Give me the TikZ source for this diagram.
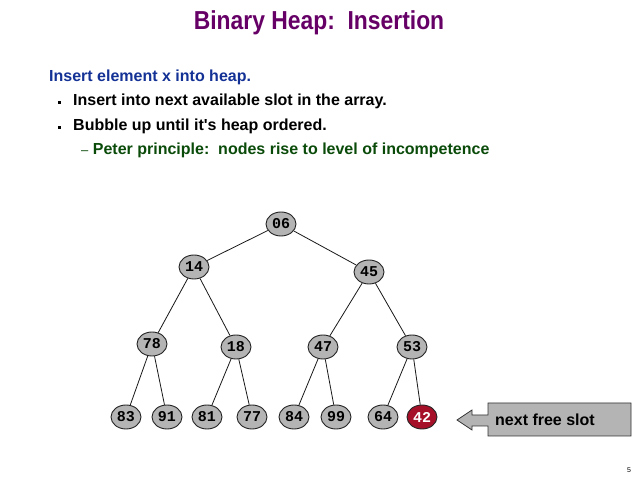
\documentclass[tikz,border=0pt]{standalone}
\usepackage{fontspec}
\setmainfont{Liberation Sans}
\newfontfamily\titlefont[FakeStretch=0.88]{Liberation Sans}
\newfontfamily\nodefont{Liberation Mono}
\usetikzlibrary{shapes.geometric}
\definecolor{titlepurple}{RGB}{102,0,102}
\definecolor{headblue}{RGB}{20,50,150}
\definecolor{subgreen}{RGB}{10,75,10}
\definecolor{nodegray}{RGB}{180,180,180}
\definecolor{hotred}{RGB}{165,15,40}
\begin{document}
\begin{tikzpicture}[x=1pt,y=-1pt,
  hnode/.style={ellipse, draw=black!85, line width=0.9pt, fill=nodegray, minimum width=30pt, minimum height=24pt, inner sep=0pt, font=\nodefont\bfseries\fontsize{15}{15}\selectfont},
  newnode/.style={hnode, fill=hotred, text=white},
  edge/.style={draw=black!90, line width=0.8pt},
  txt/.style={anchor=west, inner sep=0pt, font=\bfseries\fontsize{16}{16}\selectfont}
]
\useasboundingbox (0,0) rectangle (638,478);
\fill[white] (0,0) rectangle (638,478);

\node[inner sep=0pt, text=titlepurple, font=\titlefont\bfseries\fontsize{26}{26}\selectfont] (title) at (319,23) {Binary Heap:\ \ Insertion};
\node[txt, text=headblue] (h1) at (49,77) {Insert element x into heap.};
\node[inner sep=0pt, fill=black, minimum size=3pt] (b1) at (59,103) {};
\node[txt] (t1) at (73,101) {Insert into next available slot in the array.};
\node[inner sep=0pt, fill=black, minimum size=3pt] (b2) at (59,128) {};
\node[txt] (t2) at (73,126) {Bubble up until it\textquotesingle s heap ordered.};
\node[txt, text=subgreen] (t3) at (81,150) {{\mdseries\fontsize{13}{13}\selectfont --} Peter principle:\ \ nodes rise to level of incompetence};

\node[hnode] (n06) at (281,224) {06};
\node[hnode] (n14) at (194,267) {14};
\node[hnode] (n45) at (369,272) {45};
\node[hnode] (n78) at (152,344) {78};
\node[hnode] (n18) at (236,347) {18};
\node[hnode] (n47) at (323,347) {47};
\node[hnode] (n53) at (412,347) {53};
\node[hnode] (n83) at (126,417) {83};
\node[hnode] (n91) at (167,417) {91};
\node[hnode] (n81) at (207,417) {81};
\node[hnode] (n77) at (252,417) {77};
\node[hnode] (n84) at (294,417) {84};
\node[hnode] (n99) at (336,417) {99};
\node[hnode] (n64) at (383,417) {64};
\node[newnode] (n42) at (422,417) {42};

\path[edge] (n06) -- (n14);
\path[edge] (n06) -- (n45);
\path[edge] (n14) -- (n78);
\path[edge] (n14) -- (n18);
\path[edge] (n45) -- (n47);
\path[edge] (n45) -- (n53);
\path[edge] (n78) -- (n83);
\path[edge] (n78) -- (n91);
\path[edge] (n18) -- (n81);
\path[edge] (n18) -- (n77);
\path[edge] (n47) -- (n84);
\path[edge] (n47) -- (n99);
\path[edge] (n53) -- (n64);
\path[edge] (n53) -- (n42);

\draw[fill=nodegray, draw=black!80, line width=0.8pt]
  (457,420) -- (472,410) -- (472,415) -- (488,415) -- (488,403) -- (631,403)
  -- (631,436) -- (488,436) -- (488,426) -- (472,426) -- (472,430) -- cycle;
\node[txt] (lbl) at (495,420) {next free slot};

\node[inner sep=0pt, font=\fontsize{7}{7}\selectfont] (pg) at (629,470) {5};
\end{tikzpicture}
\end{document}
